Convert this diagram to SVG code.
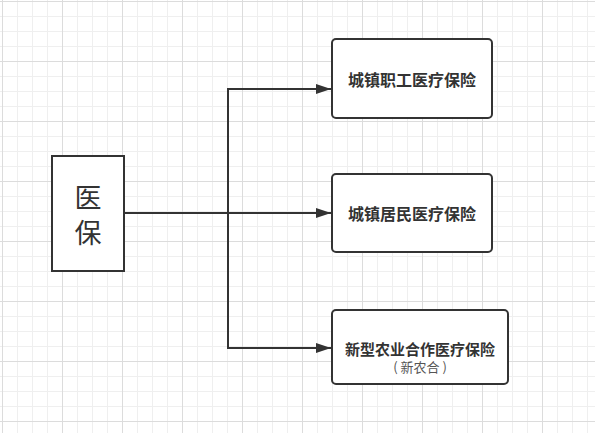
<svg xmlns="http://www.w3.org/2000/svg" width="595" height="433" viewBox="0 0 595 433">
<defs>
<pattern id="grid" x="2" y="1" width="60" height="60" patternUnits="userSpaceOnUse">
<rect x="0" y="0" width="60" height="60" fill="#ffffff"/>
<g fill="#efefef">
<rect x="15" y="0" width="1" height="60"/><rect x="30" y="0" width="1" height="60"/><rect x="45" y="0" width="1" height="60"/>
<rect x="0" y="15" width="60" height="1"/><rect x="0" y="30" width="60" height="1"/><rect x="0" y="45" width="60" height="1"/>
</g>
<g fill="#dcdcdc">
<rect x="0" y="0" width="1" height="60"/><rect x="0" y="0" width="60" height="1"/>
</g>
</pattern>
<marker id="arrow" markerUnits="userSpaceOnUse" markerWidth="16" markerHeight="12" refX="15" refY="6" orient="auto">
<path d="M0,1 L15,6 L0,11 Z" fill="#333333"/>
</marker>
<style>
.box{fill:#ffffff;stroke:#333333;stroke-width:2}
.edge{fill:none;stroke:#333333;stroke-width:2}
.lbl{font-family:"Noto Sans CJK SC","Noto Sans",sans-serif;font-weight:bold;fill:#333333;text-anchor:middle;dominant-baseline:central}
.big{font-family:"Noto Sans CJK SC","Noto Sans",sans-serif;font-size:27px;fill:#333333;text-anchor:middle}
.sub{font-family:"Noto Sans CJK SC","Noto Sans",sans-serif;font-size:13px;fill:#555555;text-anchor:middle;dominant-baseline:central}
</style>
</defs>
<rect width="595" height="433" fill="url(#grid)"/>
<g id="connectors">
<path class="edge" d="M124,213 H331" marker-end="url(#arrow)"/>
<path class="edge" d="M228,213 V89 H331" marker-end="url(#arrow)"/>
<path class="edge" d="M228,213 V348 H331" marker-end="url(#arrow)"/>
</g>
<g id="yibao">
<rect class="box" x="52" y="156" width="72" height="115"/>
<text class="big" x="88" y="208"><tspan x="88" y="208">医</tspan><tspan x="88" y="243">保</tspan></text>
</g>
<g id="zhigong">
<rect class="box" x="332" y="39" width="160" height="79" rx="4"/>
<text class="lbl" x="412" y="79" font-size="16">城镇职工医疗保险</text>
</g>
<g id="jumin">
<rect class="box" x="332" y="174" width="160" height="78" rx="4"/>
<text class="lbl" x="412" y="213" font-size="16">城镇居民医疗保险</text>
</g>
<g id="xinnonghe">
<rect class="box" x="332" y="310" width="176" height="74" rx="4"/>
<text class="lbl" x="420" y="348" font-size="15">新型农业合作医疗保险</text>
<text class="sub" x="420" y="366">( 新农合 )</text>
</g>
</svg>
